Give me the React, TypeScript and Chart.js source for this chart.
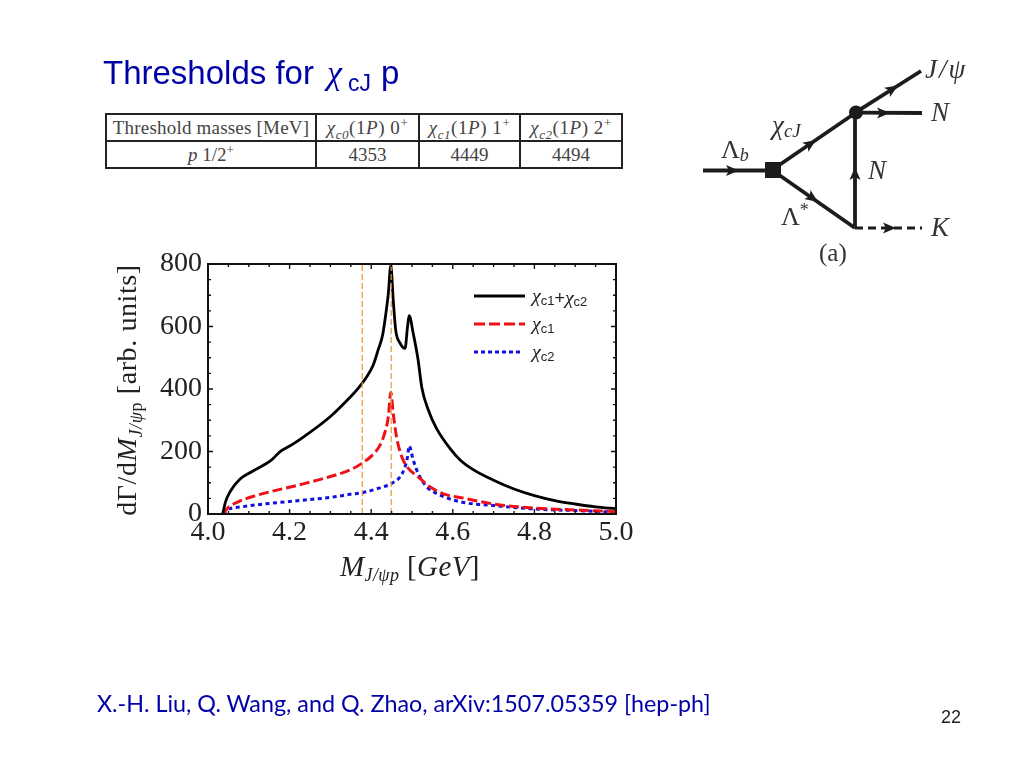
import React, { useEffect, useRef } from "react";
import { Chart, registerables } from "chart.js";

Chart.register(...registerables);

const totalX = [4.036, 4.043, 4.054, 4.078, 4.107, 4.156, 4.176, 4.205, 4.238, 4.3, 4.35, 4.368, 4.389, 4.405, 4.417, 4.428, 4.436, 4.442, 4.448, 4.454, 4.46, 4.471, 4.483, 4.489, 4.493, 4.503, 4.515, 4.524, 4.54, 4.56, 4.593, 4.618, 4.65, 4.7, 4.75, 4.8, 4.85, 4.9, 4.95, 5.0];
const totalY = [0, 39, 71, 111, 135, 173, 199, 221, 250, 312, 376, 402, 439, 477, 525, 573, 642, 706, 795, 685, 589, 546, 530, 599, 635, 578, 493, 405, 333, 274, 210, 173, 142, 108, 80, 59, 43, 32, 23, 17];
const c1X = [4.036, 4.05, 4.074, 4.115, 4.238, 4.3, 4.352, 4.377, 4.401, 4.422, 4.434, 4.442, 4.448, 4.454, 4.462, 4.475, 4.491, 4.515, 4.544, 4.585, 4.618, 4.7, 4.8, 4.9, 5.0];
const c1Y = [0, 21, 39, 58, 98, 120, 143, 162, 186, 221, 263, 311, 390, 322, 247, 183, 146, 119, 87, 61, 53, 32, 19, 13, 8];
const c2X = [4.036, 4.05, 4.083, 4.238, 4.3, 4.348, 4.381, 4.417, 4.45, 4.471, 4.483, 4.489, 4.493, 4.503, 4.515, 4.536, 4.56, 4.618, 4.7, 4.8, 4.9, 5.0];
const c2Y = [0, 15, 23, 45, 53, 63, 69, 82, 98, 119, 151, 183, 218, 173, 130, 87, 66, 39, 27, 16, 11, 6];
const thresholdLines = [4.378, 4.449];
const thresholdSpan = [0, 800];

const tableHead = ["Threshold masses [MeV]", "χc0(1P) 0+", "χc1(1P) 1+", "χc2(1P) 2+"];
const tableRow = ["p 1/2+", "4353", "4449", "4494"];

const SERIF = "'Liberation Serif', serif";
const SANS = "'Liberation Sans', Arial, sans-serif";
const NAVY = "#0000a8";
const INK = "#1c1c1c";

function pts(xs: number[], ys: number[]) {
  return xs.map((x, i) => ({ x, y: ys[i] }));
}

const frameTicks = {
  id: "frameTicks",
  afterDraw(chart: any) {
    const { ctx, chartArea: a, scales } = chart;
    ctx.save();
    ctx.strokeStyle = "#111";
    ctx.lineWidth = 2;
    ctx.strokeRect(a.left, a.top, a.right - a.left, a.bottom - a.top);
    ctx.lineWidth = 1.4;
    ctx.beginPath();
    scales.x.ticks.forEach((t: any) => {
      const px = scales.x.getPixelForValue(t.value);
      const len = t.label ? 5 : 3;
      ctx.moveTo(px, a.bottom);
      ctx.lineTo(px, a.bottom - len);
      ctx.moveTo(px, a.top);
      ctx.lineTo(px, a.top + len);
    });
    scales.y.ticks.forEach((t: any) => {
      const py = scales.y.getPixelForValue(t.value);
      const len = t.label ? 5 : 3;
      ctx.moveTo(a.left, py);
      ctx.lineTo(a.left + len, py);
      ctx.moveTo(a.right, py);
      ctx.lineTo(a.right - len, py);
    });
    ctx.stroke();
    ctx.restore();
  },
};

function ChiSub({ sub }: { sub: string }) {
  return (
    <>
      <tspan fontStyle="italic" fontFamily={SERIF} fontSize="1.1em">χ</tspan>
      <tspan fontSize="0.72em" dy="0.22em">{sub}</tspan>
      <tspan dy="-0.16em" fontSize="1px">&#8203;</tspan>
    </>
  );
}

const supStyle: React.CSSProperties = { fontSize: 13, lineHeight: 0 };
const subStyle: React.CSSProperties = { fontSize: 13, lineHeight: 0, fontStyle: "italic" };

function Cell({ text }: { text: string }) {
  const m = text.match(/^χ(c\d)\(1P\) (\d)\+$/);
  if (m) {
    return (
      <span style={{ letterSpacing: 0.55 }}>
        <i>χ</i><sub style={subStyle}>{m[1]}</sub>(1<i>P</i>) {m[2]}
        <sup style={supStyle}>+</sup>
      </span>
    );
  }
  if (text === "p 1/2+") {
    return (
      <span>
        <i>p</i> 1/2<sup style={supStyle}>+</sup>
      </span>
    );
  }
  return <span style={{ letterSpacing: text.length > 10 ? 0.2 : 0 }}>{text}</span>;
}

function Arrow({ x, y, dx, dy }: { x: number; y: number; dx: number; dy: number }) {
  const n = Math.hypot(dx, dy);
  const ux = dx / n;
  const uy = dy / n;
  const L = 13;
  const W = 5.5;
  const bx = x - ux * L;
  const by = y - uy * L;
  const nx = x - ux * (L - 3);
  const ny = y - uy * (L - 3);
  const p = [
    [x, y],
    [bx - uy * W, by + ux * W],
    [nx, ny],
    [bx + uy * W, by - ux * W],
  ];
  return <polygon points={p.map((q) => q.join(",")).join(" ")} />;
}

export default function App() {
  const ref = useRef<HTMLCanvasElement | null>(null);

  useEffect(() => {
    document.body.style.margin = "0";
    const dash = (x: number) => ({
      label: "threshold " + x,
      data: thresholdSpan.map((y) => ({ x, y })),
      borderColor: "#e59a30",
      borderWidth: 1.2,
      borderDash: [6, 3],
      pointRadius: 0,
    });
    const curve = { pointRadius: 0, cubicInterpolationMode: "monotone" };
    const chart = new Chart(ref.current as HTMLCanvasElement, {
      type: "line",
      data: {
        datasets: [
          dash(thresholdLines[0]),
          dash(thresholdLines[1]),
          { label: "χc1+χc2", data: pts(totalX, totalY), borderColor: "#000", borderWidth: 2.8, ...curve },
          { label: "χc1", data: pts(c1X, c1Y), borderColor: "#f01018", borderWidth: 3, borderDash: [10, 4], ...curve },
          { label: "χc2", data: pts(c2X, c2Y), borderColor: "#1010e0", borderWidth: 3, borderDash: [4, 3.5], ...curve },
        ],
      },
      options: {
        responsive: false,
        animation: false,
        layout: { padding: { left: 148, right: 408, top: 264, bottom: 214 } },
        plugins: { legend: { display: false }, tooltip: { enabled: false } },
        scales: {
          x: {
            type: "linear",
            min: 4,
            max: 5,
            afterFit: (s: any) => { s.height = 40; },
            grid: { display: false, drawTicks: false },
            border: { display: false },
            ticks: {
              stepSize: 0.05,
              autoSkip: false,
              maxRotation: 0,
              padding: 2,
              color: "#222",
              font: { family: "Liberation Serif", size: 28 },
              callback: (v: any) => {
                const k = Number(v) / 0.2;
                return Math.abs(k - Math.round(k)) < 1e-6 ? Number(v).toFixed(1) : "";
              },
            },
          },
          y: {
            type: "linear",
            min: 0,
            max: 800,
            afterFit: (s: any) => { s.width = 60; },
            grid: { display: false, drawTicks: false },
            border: { display: false },
            ticks: {
              stepSize: 50,
              autoSkip: false,
              padding: 6,
              color: "#222",
              font: { family: "Liberation Serif", size: 28 },
              callback: (v: any) => (Number(v) % 200 === 0 ? String(v) : ""),
            },
          },
        },
      },
      plugins: [frameTicks],
    } as any);
    return () => chart.destroy();
  }, []);

  const colW = [210, 103, 101, 102];

  return (
    <div style={{ position: "absolute", left: 0, top: 0, width: 1024, height: 768, background: "#fff", overflow: "hidden" }}>
      <canvas ref={ref} width={1024} height={768} style={{ position: "absolute", left: 0, top: 0 }} />

      <table
        style={{
          position: "absolute", left: 105, top: 113, width: 516, height: 54, borderCollapse: "collapse",
          tableLayout: "fixed", fontFamily: SERIF, fontSize: 19, color: "#444", background: "#fff",
        }}
      >
        <colgroup>{colW.map((w, i) => <col key={i} style={{ width: w }} />)}</colgroup>
        <tbody>
          {[tableHead, tableRow].map((row, r) => (
            <tr key={r} style={{ height: 27 }}>
              {row.map((t, i) => (
                <td key={i} style={{ border: "2px solid #222", padding: 0, textAlign: "center", whiteSpace: "nowrap", lineHeight: "20px", height: 25, overflow: "hidden" }}>
                  <Cell text={t} />
                </td>
              ))}
            </tr>
          ))}
        </tbody>
      </table>

      <svg width={1024} height={768} style={{ position: "absolute", left: 0, top: 0, pointerEvents: "none" }}>
        {/* slide title */}
        <text x={103} y={84} fontFamily={SANS} fontSize={33} fill={NAVY}>Thresholds for</text>
        <text x={327} y={84} fontFamily={SERIF} fontStyle="italic" fontSize={34} fill={NAVY}>χ</text>
        <text x={348} y={91} fontFamily={SANS} fontSize={23} fill={NAVY}>cJ</text>
        <text x={381} y={84} fontFamily={SANS} fontSize={33} fill={NAVY}>p</text>

        {/* axis titles */}
        <text transform="translate(136,390) rotate(-90)" textAnchor="middle" fontFamily={SERIF} fontSize={28} letterSpacing={0.6} fill="#222">
          dΓ/d<tspan fontStyle="italic">M</tspan>
          <tspan fontSize={18} dy={6} fontStyle="italic">J/ψ</tspan>
          <tspan fontSize={18}>p</tspan>
          <tspan dy={-6}> [arb. units]</tspan>
        </text>
        <text x={340} y={576} fontFamily={SERIF} fontSize={29} letterSpacing={0.4} fill="#222">
          <tspan fontStyle="italic">M</tspan>
          <tspan fontSize={18} dy={5} fontStyle="italic">J/ψp</tspan>
          <tspan dy={-5}> [</tspan>
          <tspan fontStyle="italic">GeV</tspan>]
        </text>

        {/* legend */}
        <line x1={474} x2={525} y1={296} y2={296} stroke="#000" strokeWidth={3} />
        <line x1={474} x2={525} y1={324} y2={324} stroke="#f01018" strokeWidth={3} strokeDasharray="11 4" />
        <line x1={474} x2={522} y1={352} y2={352} stroke="#1010e0" strokeWidth={3} strokeDasharray="4 3" />
        <text x={532} y={302} fontFamily={SANS} fontSize={18} fill="#222">
          <ChiSub sub="c1" /><tspan dy="-0.06em">+</tspan><ChiSub sub="c2" />
        </text>
        <text x={532} y={330} fontFamily={SANS} fontSize={18} fill="#222"><ChiSub sub="c1" /></text>
        <text x={532} y={358} fontFamily={SANS} fontSize={18} fill="#222"><ChiSub sub="c2" /></text>

        {/* decay diagram */}
        <g stroke={INK} strokeWidth={3.8} fill="none">
          <line x1={703} y1={170.5} x2={772} y2={170.5} />
          <line x1={772} y1={170} x2={856} y2={112.5} />
          <line x1={772} y1={170} x2={855} y2={228} />
          <line x1={855.5} y1={112.5} x2={921} y2={71} />
          <line x1={855.5} y1={112.5} x2={922} y2={113} />
          <line x1={855} y1={228} x2={855} y2={112.5} />
          <line x1={855} y1={228} x2={922} y2={228} strokeDasharray="8 5" strokeWidth={2.8} />
        </g>
        <g fill={INK}>
          <rect x={765} y={162} width={16} height={16} />
          <circle cx={856} cy={112.5} r={7} />
          <Arrow x={739} y={170.5} dx={1} dy={0} />
          <Arrow x={816} y={140} dx={84} dy={-57} />
          <Arrow x={818} y={202} dx={83} dy={58} />
          <Arrow x={898} y={85.5} dx={65} dy={-41} />
          <Arrow x={890} y={113} dx={1} dy={0} />
          <Arrow x={855} y={167} dx={0} dy={-1} />
          <Arrow x={896} y={228} dx={1} dy={0} />
        </g>
        <g fontFamily={SERIF} fontSize={27} fill="#333" fontStyle="italic">
          <text x={925} y={78} letterSpacing={2}>J/ψ</text>
          <text x={931} y={121}>N</text>
          <text x={868} y={179}>N</text>
          <text x={931} y={236}>K</text>
          <text x={772} y={134}>χ<tspan fontSize={19} dy={3}>cJ</tspan></text>
        </g>
        <g fontFamily={SERIF} fontSize={26} fill="#333">
          <text x={721} y={158}>Λ<tspan fontSize={18} dy={3} fontStyle="italic">b</tspan></text>
          <text x={781} y={225}>Λ<tspan fontSize={18} dy={-9}>*</tspan></text>
          <text x={819} y={261} fontSize={25}>(a)</text>
        </g>

        {/* footer */}
        <text x={97} y={712} fontFamily="Lato, sans-serif" fontSize={23.3} fill={NAVY}>
          X.-H. Liu, Q. Wang, and Q. Zhao, arXiv:1507.05359 [hep-ph]
        </text>
        <text x={941} y={723} fontFamily={SANS} fontSize={18} fill="#222">22</text>
      </svg>
    </div>
  );
}
